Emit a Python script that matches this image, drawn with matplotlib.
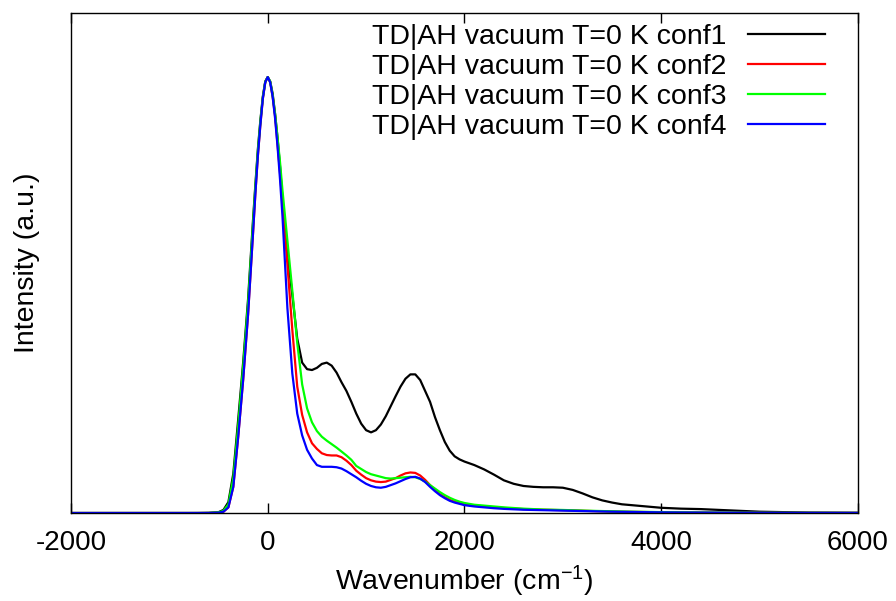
import matplotlib
matplotlib.use('Agg')
import matplotlib.pyplot as plt

plt.rcParams['font.family'] = ['Liberation Sans', 'DejaVu Sans']
plt.rcParams['mathtext.default'] = 'regular'
plt.rcParams['axes.unicode_minus'] = False

# wavenumber grid (cm-1)
wn = [-2000, -1000, -800, -700, -600, -500, -450, -400, -350, -300, -250, -200, -150, -125, -100, -75, -50, -25, 0,
      25, 50, 75, 100, 125, 150, 200, 250, 300, 350, 400, 450, 500, 550, 600, 650, 700, 750, 800, 850, 900, 950, 1000,
      1050, 1100, 1150, 1200, 1250, 1300, 1350, 1400, 1450, 1500, 1550, 1600, 1650, 1700, 1750, 1800,
      1850, 1900, 1950, 2000,
      2100, 2200, 2300, 2400, 2500, 2600, 2700, 2800, 2900, 3000, 3100, 3200, 3300, 3400, 3500, 3600,
      3700, 3800, 3900, 4000,
      4200, 4400, 4600, 4800, 5000, 5500, 6000]

conf1 = [0, 0, 0, 0.0001, 0.0004, 0.002, 0.007, 0.025, 0.09, 0.215, 0.345, 0.49, 0.67, 0.755, 0.835, 0.9, 0.955, 0.99, 1.0,
         0.99, 0.962, 0.915, 0.86, 0.795, 0.72, 0.595, 0.50, 0.40, 0.345, 0.33, 0.328, 0.333, 0.342, 0.345, 0.338, 0.322,
         0.30, 0.28, 0.255, 0.228, 0.205, 0.19,
         0.185, 0.19, 0.203, 0.222, 0.245, 0.268, 0.29, 0.308, 0.318, 0.318, 0.305, 0.28, 0.255, 0.22, 0.19, 0.163,
         0.143, 0.13, 0.123, 0.118,
         0.110, 0.10, 0.088, 0.075, 0.067, 0.062, 0.060, 0.059, 0.059, 0.058, 0.053, 0.045, 0.036, 0.029, 0.024, 0.020,
         0.018, 0.016, 0.014, 0.012,
         0.010, 0.009, 0.007, 0.005, 0.003, 0.001, 0.0005]

conf2 = [0, 0, 0, 0, 0.0001, 0.0008, 0.003, 0.013, 0.06, 0.175, 0.305, 0.455, 0.64, 0.735, 0.82, 0.89, 0.95, 0.988, 1.0,
         0.988, 0.955, 0.91, 0.845, 0.78, 0.71, 0.57, 0.42, 0.29, 0.225, 0.185, 0.16, 0.147, 0.137, 0.133, 0.132, 0.132,
         0.128, 0.12, 0.11, 0.097, 0.088, 0.08,
         0.075, 0.072, 0.071, 0.072, 0.076, 0.08, 0.086, 0.091, 0.093, 0.092, 0.086, 0.076, 0.064, 0.053, 0.043, 0.036,
         0.030, 0.026, 0.023, 0.020,
         0.017, 0.015, 0.013, 0.0115, 0.010, 0.009, 0.0082, 0.0075, 0.007, 0.0065, 0.006, 0.0052, 0.0045, 0.004,
         0.0035, 0.003, 0.0027, 0.0024, 0.002, 0.0017,
         0.0013, 0.001, 0.0008, 0.0006, 0.0005, 0.0003, 0.0002]

conf3 = [0, 0, 0, 0, 0.0002, 0.0015, 0.005, 0.02, 0.08, 0.20, 0.335, 0.48, 0.662, 0.75, 0.83, 0.897, 0.953, 0.989, 1.0,
         0.99, 0.958, 0.915, 0.86, 0.805, 0.74, 0.625, 0.51, 0.39, 0.295, 0.24, 0.208, 0.188, 0.175, 0.166, 0.158, 0.15,
         0.141, 0.132, 0.122, 0.108, 0.101, 0.094,
         0.089, 0.086, 0.083, 0.08, 0.079, 0.08, 0.081, 0.082, 0.083, 0.082, 0.078, 0.072, 0.064, 0.056, 0.048, 0.041,
         0.035, 0.030, 0.026, 0.023,
         0.019, 0.017, 0.015, 0.013, 0.0115, 0.010, 0.009, 0.008, 0.0075, 0.007, 0.0063, 0.0056, 0.005, 0.0045,
         0.004, 0.0035, 0.003, 0.0027, 0.0024, 0.002,
         0.0016, 0.0012, 0.001, 0.0008, 0.0006, 0.0004, 0.0002]

conf4 = [0, 0, 0, 0, 0.0001, 0.0008, 0.003, 0.013, 0.06, 0.175, 0.305, 0.455, 0.64, 0.735, 0.82, 0.89, 0.95, 0.988, 1.0,
         0.988, 0.955, 0.905, 0.84, 0.765, 0.68, 0.47, 0.32, 0.228, 0.178, 0.145, 0.125, 0.11, 0.106, 0.106, 0.106, 0.105,
         0.102, 0.096, 0.089, 0.082, 0.074, 0.067,
         0.062, 0.059, 0.058, 0.06, 0.064, 0.068, 0.073, 0.078, 0.082, 0.083, 0.079, 0.071, 0.06, 0.05, 0.041, 0.034,
         0.028, 0.024, 0.021, 0.018,
         0.015, 0.013, 0.011, 0.0095, 0.0085, 0.0075, 0.007, 0.0065, 0.006, 0.0055, 0.005, 0.0045, 0.004, 0.0035,
         0.003, 0.0027, 0.0024, 0.0021, 0.0018, 0.0015,
         0.0012, 0.001, 0.0008, 0.0006, 0.0005, 0.0003, 0.0002]

labels = ['TD|AH vacuum T=0 K conf1', 'TD|AH vacuum T=0 K conf2',
          'TD|AH vacuum T=0 K conf3', 'TD|AH vacuum T=0 K conf4']
colors = ['#000000', '#ff0000', '#00ff00', '#0000ff']

fig = plt.figure(figsize=(8.96, 6.01), dpi=100)
ax = fig.add_axes([0.0792, 0.1464, 0.8784, 0.832])

for ys, lab, c in zip([conf1, conf2, conf3, conf4], labels, colors):
    ax.plot(wn, ys, color=c, lw=1.6, label=lab)

ax.set_xlim(-2000, 6000)
ax.set_ylim(0, 1.147)
ax.set_xticks([-2000, 0, 2000, 4000, 6000])
ax.set_yticks([])
ax.tick_params(axis='x', direction='in', top=True, length=7, width=1, labelsize=20, pad=12)
for sp in ax.spines.values():
    sp.set_linewidth(1)

ax.set_xlabel('Wavenumber (cm$^{-1}$)', fontsize=20.5, labelpad=6)
ax.set_ylabel('Intensity (a.u.)', fontsize=20.5, labelpad=22)

ax.legend(loc='upper right', bbox_to_anchor=(0.976, 1.006), frameon=False, markerfirst=False,
          fontsize=20.5, handlelength=2.7, handletextpad=0.75, labelspacing=0.14,
          borderaxespad=0.3, borderpad=0.2)

fig.savefig('out.png', dpi=100)
